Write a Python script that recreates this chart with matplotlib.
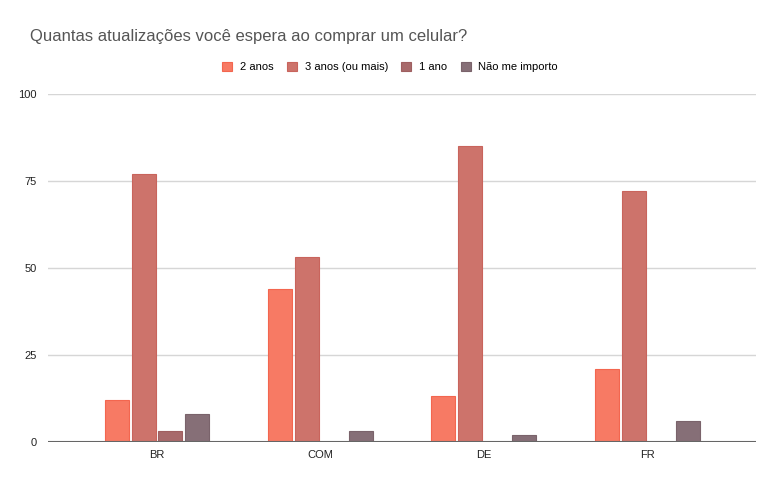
#!/usr/bin/env python3
# Grouped bar chart: expected software updates when buying a phone, by site

import numpy as np
import matplotlib.pyplot as plt

# Data
categories = ["BR", "COM", "DE", "FR"]
series_names = ["2 anos", "3 anos (ou mais)", "1 ano", "Não me importo"]
dois_anos = [12, 44, 13, 21]
tres_anos = [77, 53, 85, 72]
um_ano = [3, 0, 0, 0]
nao_importa = [8, 3, 2, 6]
y_ticks = [0, 25, 50, 75, 100]

series_values = [dois_anos, tres_anos, um_ano, nao_importa]
colors = ["#f77a64", "#cd736b", "#a86a6b", "#866f77"]
edges = ["#f3664f", "#c9645c", "#9f5f60", "#7a636b"]

plt.rcParams['font.family'] = ['Liberation Sans', 'DejaVu Sans']


def main():
    fig = plt.figure(figsize=(7.82, 4.84), dpi=100)
    ax = fig.add_axes([0.0614, 0.0874, 0.9056, 0.7187])

    x = np.arange(len(categories))
    pitch = 0.165
    width = 0.147
    for i, (name, vals) in enumerate(zip(series_names, series_values)):
        offset = (i - 1.5) * pitch
        ax.bar(x + offset, vals, width, color=colors[i], edgecolor=edges[i],
               linewidth=0.8, label=name, zorder=3)

    ax.set_xlim(-0.667, len(categories) - 1 + 0.667)
    ax.set_ylim(0, 100)
    ax.set_yticks(y_ticks)
    ax.set_yticklabels([str(t) for t in y_ticks])
    ax.set_xticks(x)
    ax.set_xticklabels(categories)
    ax.tick_params(axis="both", length=0, labelsize=8, colors="#222222")
    ax.tick_params(axis="y", pad=8)
    ax.tick_params(axis="x", pad=6)

    ax.yaxis.grid(True, color="#d6d6d6", linewidth=1, zorder=0)
    for s in ax.spines.values():
        s.set_visible(False)
    ax.axhline(0, color="#666666", linewidth=1.5, zorder=4)

    fig.text(30 / 782, 1 - 36 / 484, "Quantas atualizações você espera ao comprar um celular?",
             fontsize=12, color="#555555", va="center", ha="left")

    ax.legend(loc="center", bbox_to_anchor=(390 / 782, 1 - 67 / 484),
              bbox_transform=fig.transFigure, ncol=4, frameon=False,
              fontsize=8, handlelength=0.9, handleheight=0.9,
              handletextpad=0.7, columnspacing=1.2)

    fig.savefig("out.png", dpi=100)


if __name__ == "__main__":
    main()
